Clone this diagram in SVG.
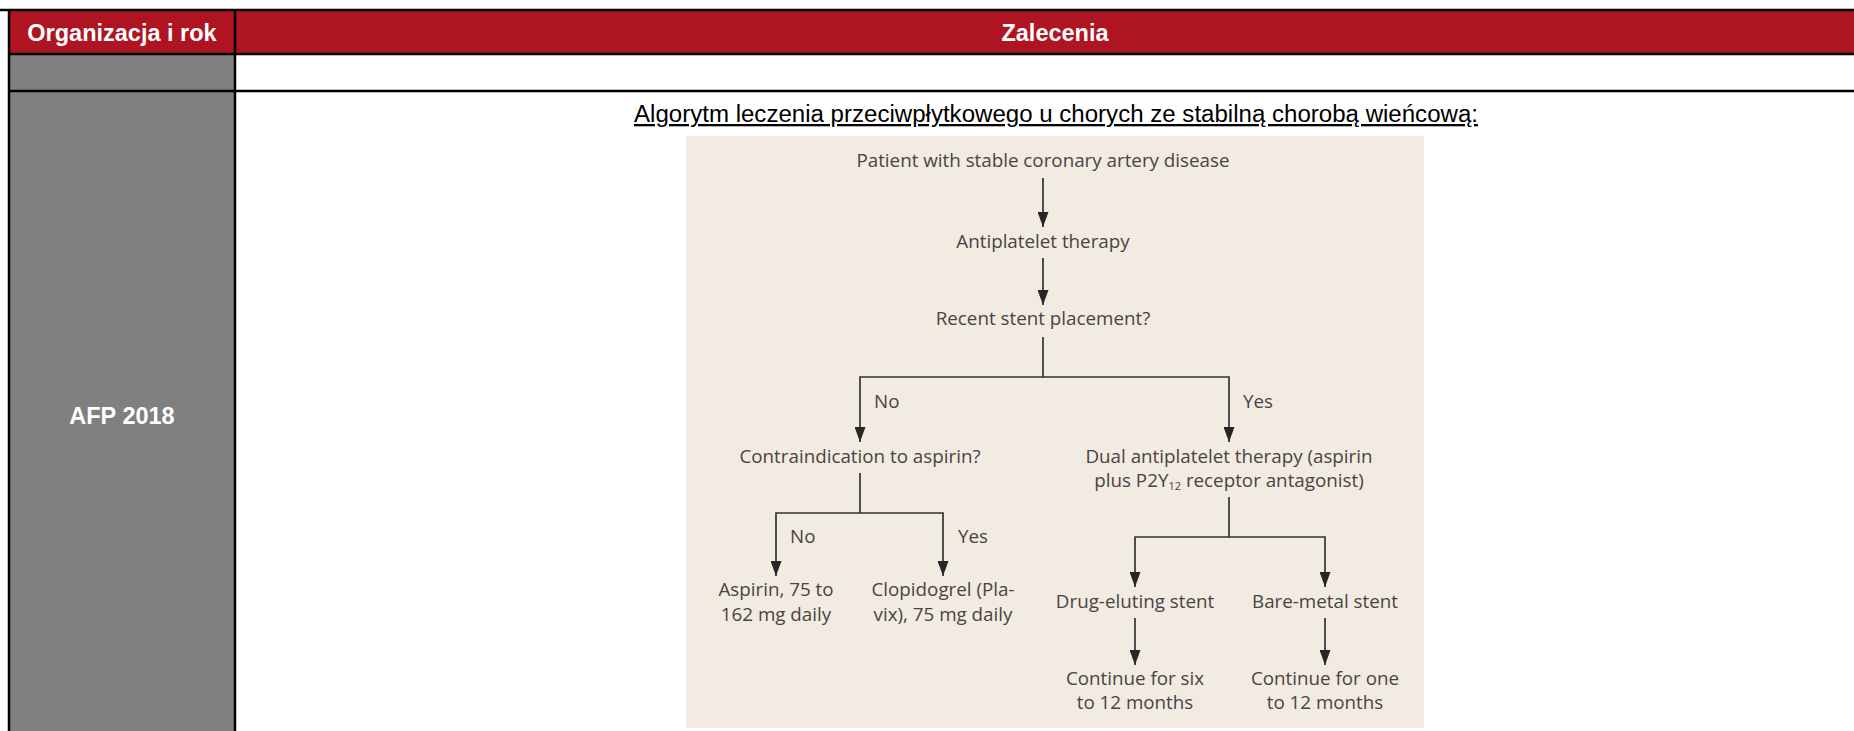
<svg xmlns="http://www.w3.org/2000/svg" width="1854" height="731" viewBox="0 0 1854 731">
<style>
.hdr{font-family:"Liberation Sans",Arial,sans-serif;font-weight:bold;font-size:23.5px;fill:#ffffff;text-anchor:middle}
.ttl{font-family:"Liberation Sans",Arial,sans-serif;font-size:23px;fill:#000;text-anchor:middle;text-decoration:underline}
.fc{font-family:"Open Sans","Noto Sans",sans-serif;font-size:18.8px;fill:#4a4343;text-anchor:middle}
.lbl{font-family:"Open Sans","Noto Sans",sans-serif;font-size:18.8px;fill:#4a4343}
.grid{stroke:#000;stroke-width:2.5;fill:none}
.con{stroke:#333;stroke-width:1.7;fill:none}
</style>
<defs>
<marker id="ah" viewBox="0 0 15 11" refX="15" refY="5.5" markerWidth="15" markerHeight="11" markerUnits="userSpaceOnUse" orient="auto-start-reverse">
<path d="M0,0 L15,5.5 L0,11 Z" fill="#262626"/>
</marker>
</defs>
<rect width="1854" height="731" fill="#ffffff"/>

<g id="table">
<rect x="9" y="10" width="1845" height="44" fill="#ae1421"/>
<rect x="9" y="54" width="226" height="677" fill="#808080"/>
<line class="grid" x1="0" y1="10" x2="1854" y2="10"/>
<line class="grid" x1="9" y1="54" x2="1854" y2="54"/>
<line class="grid" x1="9" y1="91" x2="1854" y2="91"/>
<line class="grid" x1="9" y1="9" x2="9" y2="731"/>
<line class="grid" x1="235" y1="10" x2="235" y2="731"/>
</g>
<g id="header-org"><text class="hdr" x="122" y="41">Organizacja i rok</text></g>
<g id="header-zal"><text class="hdr" x="1055" y="41">Zalecenia</text></g>
<g id="org-afp"><text class="hdr" x="122" y="424">AFP 2018</text></g>
<g id="title"><text class="ttl" x="1056" y="122" textLength="844" lengthAdjust="spacingAndGlyphs">Algorytm leczenia przeciwpłytkowego u chorych ze stabilną chorobą wieńcową:</text></g>

<rect id="panel" x="686" y="136" width="738" height="592" fill="#f1ebe2"/>

<g id="connectors">
<line class="con" x1="1043" y1="178" x2="1043" y2="227" marker-end="url(#ah)"/>
<line class="con" x1="1043" y1="258" x2="1043" y2="305" marker-end="url(#ah)"/>
<polyline class="con" points="1043,337 1043,377"/>
<polyline class="con" points="860,442 860,377 1229,377 1229,442" marker-start="url(#ah)" marker-end="url(#ah)"/>
<polyline class="con" points="860,473 860,513"/>
<polyline class="con" points="776,576 776,513 943,513 943,576" marker-start="url(#ah)" marker-end="url(#ah)"/>
<polyline class="con" points="1229,497 1229,537"/>
<polyline class="con" points="1135,587 1135,537 1325,537 1325,587" marker-start="url(#ah)" marker-end="url(#ah)"/>
<line class="con" x1="1135" y1="618" x2="1135" y2="665" marker-end="url(#ah)"/>
<line class="con" x1="1325" y1="618" x2="1325" y2="665" marker-end="url(#ah)"/>
<text class="lbl" x="874" y="408">No</text>
<text class="lbl" x="1243" y="408">Yes</text>
<text class="lbl" x="790" y="543">No</text>
<text class="lbl" x="958" y="543">Yes</text>
</g>

<g id="n-patient"><text class="fc" x="1043" y="167">Patient with stable coronary artery disease</text></g>
<g id="n-antiplatelet"><text class="fc" x="1043" y="248">Antiplatelet therapy</text></g>
<g id="n-recent"><text class="fc" x="1043" y="325">Recent stent placement?</text></g>
<g id="n-contra"><text class="fc" x="860" y="463">Contraindication to aspirin?</text></g>
<g id="n-dual"><text class="fc" x="1229" y="463">Dual antiplatelet therapy (aspirin</text><text class="fc" x="1229" y="487">plus P2Y<tspan font-size="11px" dy="3">12</tspan><tspan dy="-3"> receptor antagonist)</tspan></text></g>
<g id="n-aspirin"><text class="fc" x="776" y="596">Aspirin, 75 to</text><text class="fc" x="776" y="621">162 mg daily</text></g>
<g id="n-clopi"><text class="fc" x="943" y="596">Clopidogrel (Pla-</text><text class="fc" x="943" y="621">vix), 75 mg daily</text></g>
<g id="n-des"><text class="fc" x="1135" y="608">Drug-eluting stent</text></g>
<g id="n-bms"><text class="fc" x="1325" y="608">Bare-metal stent</text></g>
<g id="n-six"><text class="fc" x="1135" y="685">Continue for six</text><text class="fc" x="1135" y="709">to 12 months</text></g>
<g id="n-one"><text class="fc" x="1325" y="685">Continue for one</text><text class="fc" x="1325" y="709">to 12 months</text></g>
</svg>
